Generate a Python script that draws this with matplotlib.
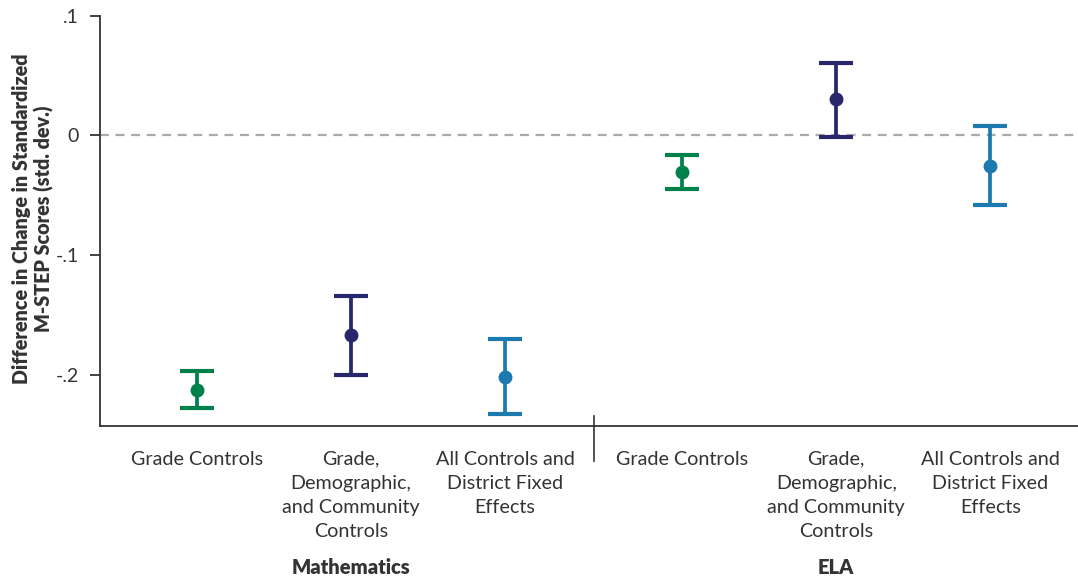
import numpy as np
import matplotlib
matplotlib.use("Agg")
import matplotlib.pyplot as plt
import matplotlib.transforms as mtransforms

plt.rcParams['font.family'] = ['Lato', 'DejaVu Sans']

# --- dados ---
grupos = ["Mathematics", "ELA"]
modelos = ["Grade Controls",
           "Grade,\nDemographic,\nand Community\nControls",
           "All Controls and\nDistrict Fixed\nEffects"]
estimativa = [-0.2129, -0.1666, -0.2014, -0.0307, 0.0302, -0.0255]
ic_sup = [-0.1967, -0.1338, -0.1702, -0.0163, 0.0608, 0.0079]
ic_inf = [-0.2278, -0.2000, -0.2326, -0.0444, -0.0015, -0.0578]
cores = ["#00804A", "#27276E", "#1C7AB0"]

xs = [0, 1, 2, 3.15, 4.15, 5.15]

fig = plt.figure(figsize=(10.78, 5.79), dpi=100)
ax = fig.add_axes([100/1078, 1 - 425.7/579, 1 - 100/1078, (425.7 - 15.7)/579])

ax.axhline(0, color="#AAAAAA", lw=1.6, ls=(0, (4, 3)), zorder=1)

for i, x in enumerate(xs):
    y = estimativa[i]
    c = cores[i % 3]
    ax.errorbar(x, y, yerr=[[y - ic_inf[i]], [ic_sup[i] - y]], fmt='o',
                color=c, ms=9, elinewidth=2.7, capsize=12, capthick=3, zorder=3)

ax.set_xlim(-0.63, 5.72)
ax.set_ylim(-0.2423, 0.1)

for s in ["top", "right"]:
    ax.spines[s].set_visible(False)
for s in ["left", "bottom"]:
    ax.spines[s].set_linewidth(1.3)
    ax.spines[s].set_color("#333333")

ax.set_yticks([0.1, 0, -0.1, -0.2])
ax.set_yticklabels([".1", "0", "-.1", "-.2"], fontsize=14, color="#333333")
ax.tick_params(axis='y', length=7, width=1.3, color="#333333", pad=8)

ax.set_xticks(xs)
ax.set_xticklabels(modelos * 2, fontsize=14.2, color="#333333", linespacing=1.5, va='top')
ax.tick_params(axis='x', length=0, pad=18)

# divisor entre grupos
trans = mtransforms.blended_transform_factory(ax.transData, fig.transFigure)
ax.plot([2.578, 2.578], [1 - 416/579, 1 - 461/579], color="#333333", lw=1.2,
        transform=trans, clip_on=False)

# nomes dos grupos
for g, xc in zip(grupos, [1, 4.15]):
    ax.text(xc, 1 - 568/579, g, transform=trans, ha='center', va='center',
            fontsize=14.5, fontweight='heavy', color="#333333")

fig.text(33/1078, 1 - 219/579,
         "Difference in Change in Standardized\nM-STEP Scores (std. dev.)",
         rotation=90, ha='center', va='center', fontsize=14.2, fontweight='heavy',
         color="#333333", linespacing=1.2)

fig.savefig("out.png", dpi=100)
